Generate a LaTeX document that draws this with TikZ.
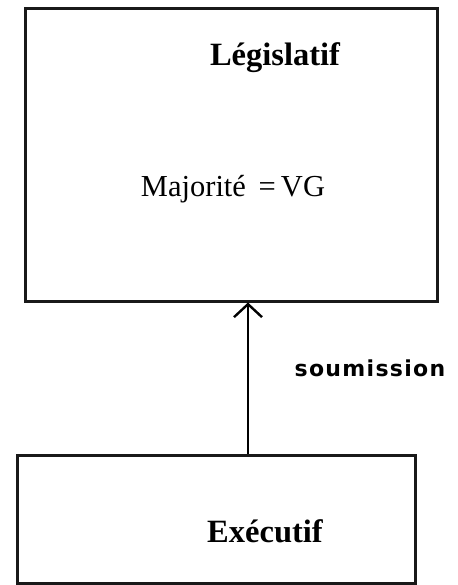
\documentclass[tikz,border=0pt]{standalone}
\usepackage{fontspec}
\setmainfont{Liberation Serif}
\newfontfamily\handfont[LetterSpace=6]{DejaVu Sans}
\usetikzlibrary{arrows.meta}
\begin{document}
\begin{tikzpicture}[x=1pt,y=-1pt,
  box/.style={draw=black!90, line width=3pt, inner sep=0pt},
  title/.style={font=\fontsize{32.5}{34}\selectfont\bfseries},
  plain/.style={font=\fontsize{30.5}{32}\selectfont},
  hand/.style={font=\handfont\fontsize{22}{24}\selectfont\bfseries}]
\useasboundingbox[fill=white] (0,0) rectangle (457,585);
\node[box, minimum width=412pt, minimum height=292pt] (leg) at (231,155) {};
\node[box, minimum width=398pt, minimum height=128pt] (exe) at (216,519) {};
\node[title] (legt) at (275,58) {Législatif};
\node[plain] (maj) at (233,189) {Majorité \,=\,VG};
\node[title] (exet) at (265,531) {Exécutif};
\coordinate (ax) at (248,0);
\draw[line width=2.4pt, -{Straight Barb[length=13pt, width=28pt, line width=2.4pt]}]
  (exe.north -| ax) -- (leg.south -| ax);
\node[hand] (soum) at (370,368) {soumission};
\end{tikzpicture}
\end{document}
